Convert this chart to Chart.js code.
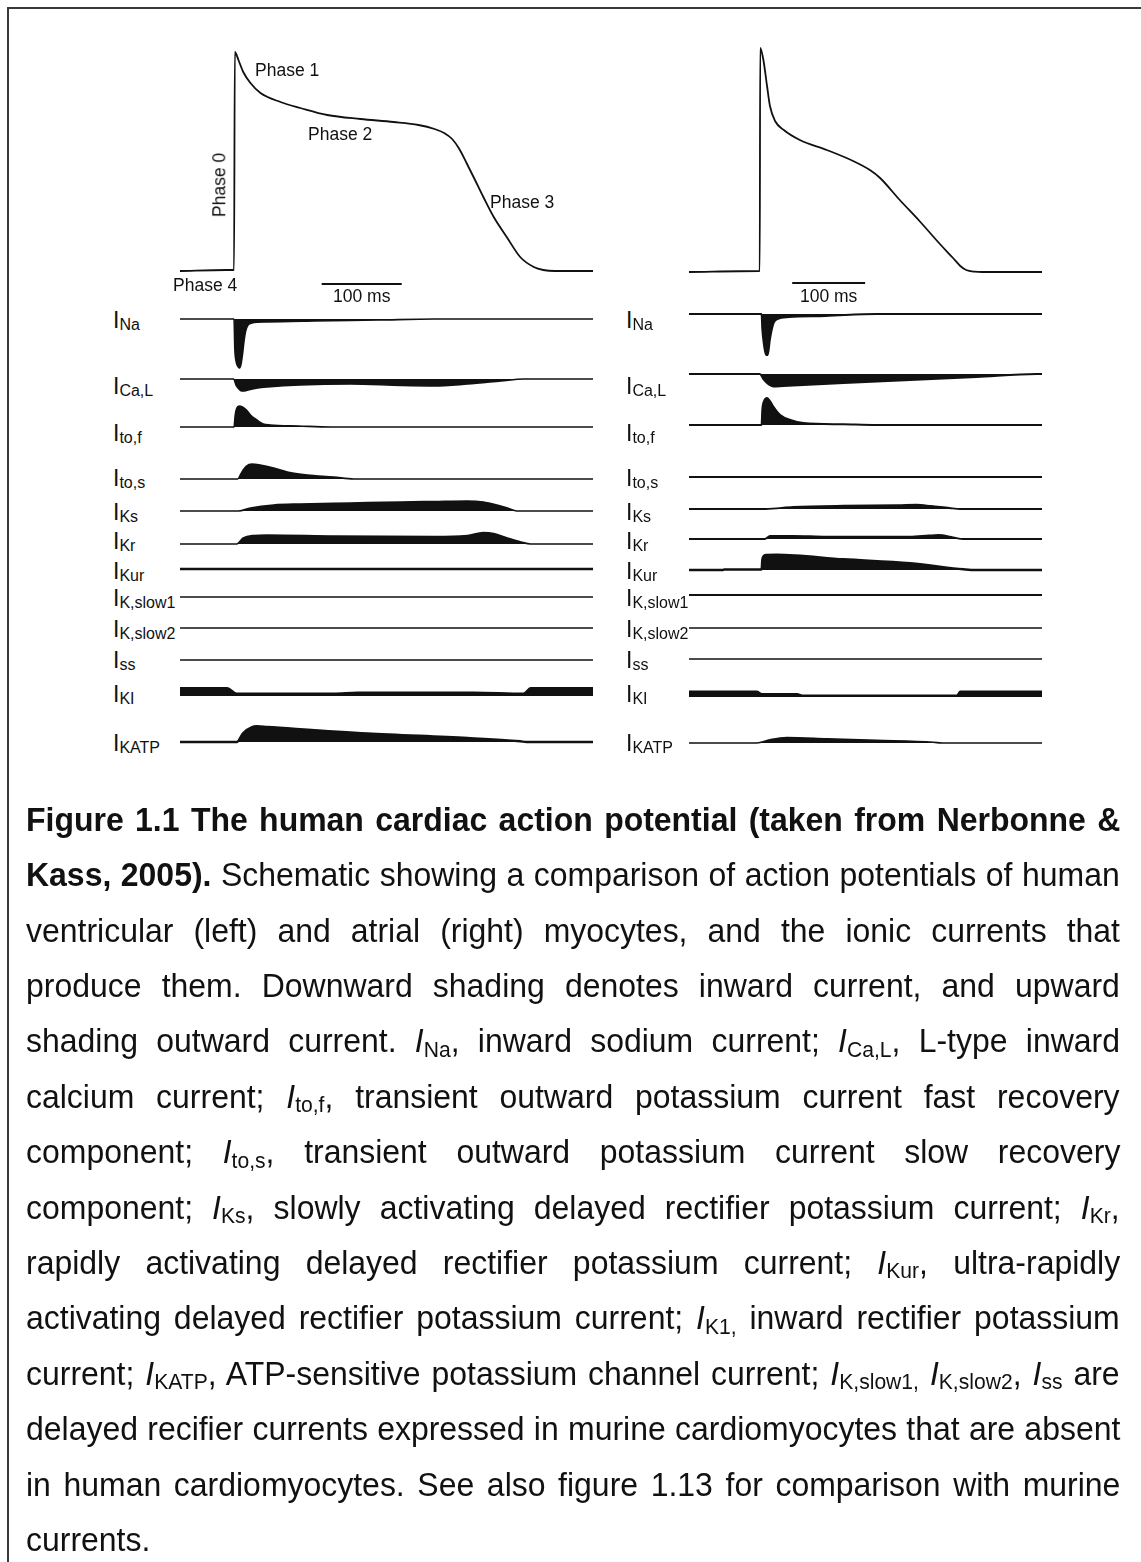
<!DOCTYPE html>
<html>
<head>
<meta charset="utf-8">
<title>Human cardiac action potential and ionic currents</title>
<script src="https://cdn.jsdelivr.net/npm/chart.js@4.4.1/dist/chart.umd.min.js"></script>
<style>
  html, body { margin: 0; padding: 0; background: #fff; }
  body {
    width: 1141px; height: 1562px; position: relative; overflow: hidden;
    font-family: "Liberation Sans", Arial, Helvetica, sans-serif; color: #111;
  }
  #frame {
    position: absolute; left: 7px; top: 7px; width: 1200px; height: 1600px;
    border-top: 2px solid #3a3a3a; border-left: 2px solid #3a3a3a;
  }
  canvas.plot { position: absolute; display: block; }
  .lbl { position: absolute; white-space: nowrap; line-height: 1; }
  .phase { font-size: 17.5px; }
  .cur { font-size: 23px; }
  .cur sub { font-size: 16px; vertical-align: baseline; position: relative; top: 2px; }
  #caption { position: absolute; left: 26px; top: 0; transform-origin: 0 0; }
  .cl { position: absolute; left: 0; white-space: nowrap; font-size: 34px; line-height: 1; }
  .cl sub { font-size: 0.66em; vertical-align: baseline; position: relative; top: 0.2em; }
</style>
</head>
<body>
<div id="frame"></div>
<div id="caption"></div>
<script>
// ---- Data: time in ms (0 = upstroke), AP in arbitrary mV units above rest,
// ---- currents in arbitrary units (outward positive, inward negative).

const CURRENT_LABELS = ['Na', 'Ca,L', 'to,f', 'to,s', 'Ks', 'Kr', 'Kur', 'K,slow1', 'K,slow2', 'ss', 'KI', 'KATP'];

// Ventricular myocyte (left column)
const ventricularAP = [[-68,0],[-10,1],[-0.5,1],[0.5,219],[5,211],[11,199],[20,188],[32.5,178],[57.5,169],[82.5,163],[116,156],[157.5,152],[199,149],[230,146],[250,142],[262,138],[272,132],[281,122],[290,108],[300,92],[311,74],[324,54],[341,33],[357,14],[374,4],[386,1],[400,0],[448,0]];
const vNa    = [[-68,0],[-0.5,0],[0.5,-30],[2,-42],[4,-47],[6,-49],[8,-46],[10,-36],[12,-22],[14,-12],[17,-6],[22,-4],[40,-3],[100,-2],[180,-1],[250,0],[448,0]];
const vCaL   = [[-68,0],[-1,0],[2,-6],[7,-11],[11,-12],[17,-11],[29,-9],[41,-8],[82,-6],[145,-5],[208,-6.5],[249,-7],[291,-5],[333,-2],[361,0],[448,0]];
const vTof   = [[-68,0],[-0.5,0],[1,12],[3,19],[6,21],[10,20],[15,17],[20,12],[28,7],[36,3],[45,2],[80,1],[120,0],[448,0]];
const vTos   = [[-68,0],[4,0],[8,5],[11,9],[15,13],[22,15],[32,14],[49,11],[66,7],[91,4],[124,2],[149,0],[448,0]];
const vKs    = [[-68,0],[5,0],[20,3],[49,6],[82,7],[145,8],[208,9],[249,9.5],[291,10],[311,9],[328,6],[341,3],[353,0],[448,0]];
const vKr    = [[-68,0],[3,0],[11,6],[24,8.5],[41,9],[124,8],[249,7.5],[291,8.5],[311,11.5],[324,10.5],[341,6],[358,2],[370,0],[448,0]];
const vKur   = [[-68,0],[448,0]];
const vKslow1 = [[-68,0],[448,0]];
const vKslow2 = [[-68,0],[448,0]];
const vSs    = [[-68,0],[448,0]];
const vK1    = [[-68,8],[-9,8],[3,2.5],[124,2.5],[154,3.5],[299,3.5],[361,2.5],[370,8],[448,8]];
const vKATP  = [[-68,0],[3,0],[11,9],[22,15],[28,15.7],[41,15],[166,8.5],[291,4],[357,0.7],[365,0],[448,0]];

// Atrial myocyte (right column)
const atrialAP = [[-97,0],[-1,1],[0,1],[0.6,224],[5,212],[10,186],[14,166],[21,151],[33,142],[55,132],[92,122],[128,111],[151,102],[165,94],[192,72],[219,51],[247,28],[265,14],[275,6],[283,2],[295,0.3],[305,0],[387,0]];
const aNa    = [[-97,0],[2.5,0],[3.5,-15],[6,-32],[9,-41],[11,-41],[14,-25],[19,-9],[24,-5],[40,-3],[90,-2],[160,0],[387,0]];
const aCaL   = [[-97,0],[0,0],[5,-5],[10,-9],[19,-12.5],[32,-12],[115,-9],[206,-6],[297,-3],[380,0],[387,0]];
const aTof   = [[-97,0],[2.5,0],[3.5,15],[6,24],[10,27],[14,24],[19,18],[28,10],[42,5],[60,2],[115,0.7],[160,0],[387,0]];
const aTos   = [[-97,0],[387,0]];
const aKs    = [[-97,0],[8,0],[46,2],[115,3.3],[190,3.8],[215,4.3],[235,3],[260,1],[275,0],[387,0]];
const aKr    = [[-97,0],[7,0],[14,3],[46,3.2],[92,2.3],[206,2.3],[232,3.5],[245,4],[265,1.7],[279,0],[387,0]];
const aKur   = [[-97,0],[-50,0],[-49,0.5],[2.5,0.5],[3.5,10],[5,13.5],[9,15],[23,15.3],[115,10.7],[206,6.7],[279,0.7],[290,0],[387,0]];
const aKslow1 = [[-97,0],[387,0]];
const aKslow2 = [[-97,0],[387,0]];
const aSs    = [[-97,0],[387,0]];
const aK1    = [[-97,5.5],[-4,5.5],[3,3],[51,3],[60,1.5],[270,1.5],[275,5.5],[387,5.5]];
const aKATP  = [[-97,0],[-4,0],[14,3.3],[37,5.5],[92,4.3],[160,2.7],[238,0.7],[250,0],[387,0]];

const SCALE_BAR_MS = 100;

const ventricularCurrents = [vNa, vCaL, vTof, vTos, vKs, vKr, vKur, vKslow1, vKslow2, vSs, vK1, vKATP];
const atrialCurrents = [aNa, aCaL, aTof, aTos, aKs, aKr, aKur, aKslow1, aKslow2, aSs, aK1, aKATP];

// ---- Layout (page pixels) ----
const INK = '#111111';
const COLUMNS = [
  {
    ap: ventricularAP, currents: ventricularCurrents,
    x0: 180, x1: 593, tMin: -68, tMax: 448, apZero: 271, labelX: 113,
    barStart: 109, barLevel: -13,
    zeros:  [319, 379, 427, 479, 511, 544, 569, 597, 628, 660, 696, 742],
    widths: [1.6, 1.6, 1.6, 1.6, 1.6, 1.6, 2.6, 1.3, 1.3, 1.3, 1.8, 2.4]
  },
  {
    ap: atrialAP, currents: atrialCurrents,
    x0: 689, x1: 1042, tMin: -97, tMax: 387, apZero: 272, labelX: 626,
    barStart: 44.5, barLevel: -11,
    zeros:  [314, 374, 425, 477, 509, 539, 570, 595, 628, 659, 697, 743],
    widths: [2.0, 2.0, 2.0, 2.0, 1.8, 1.8, 2.4, 2.0, 1.6, 1.6, 1.8, 1.6]
  }
];
const LABEL_BASELINES = [328, 394, 441, 486, 520, 549, 579, 606, 637, 668, 702, 751];

function baseOptions(col, lo, hi) {
  return {
    responsive: false, animation: false, events: [], devicePixelRatio: 1,
    layout: { padding: 0, autoPadding: false },
    plugins: { legend: { display: false }, tooltip: { enabled: false } },
    scales: {
      x: { type: 'linear', min: col.tMin, max: col.tMax, display: false },
      y: { type: 'linear', min: lo, max: hi, display: false }
    }
  };
}

function makeCanvas(col, zeroY, lo, hi) {
  const cv = document.createElement('canvas');
  cv.className = 'plot';
  cv.width = col.x1 - col.x0;
  cv.height = hi - lo;
  cv.style.left = col.x0 + 'px';
  cv.style.top = (zeroY - hi) + 'px';
  cv.style.width = cv.width + 'px';
  cv.style.height = cv.height + 'px';
  document.body.appendChild(cv);
  return cv;
}

function lineSet(points, width, fill) {
  return {
    data: points.map(([t, v]) => ({ x: t, y: v })),
    borderColor: INK, backgroundColor: INK, borderWidth: width,
    fill: fill ? 'origin' : false,
    pointRadius: 0, pointHoverRadius: 0, pointHitRadius: 0,
    cubicInterpolationMode: 'monotone',
    borderJoinStyle: 'round', borderCapStyle: 'butt'
  };
}

// Action potential panel with its 100 ms scale bar
function apChart(col) {
  const ys = col.ap.map(p => p[1]);
  const hi = Math.ceil(Math.max(...ys) + 5);
  const lo = col.barLevel - 4;
  const cv = makeCanvas(col, col.apZero, lo, hi);
  const bar = [[col.barStart, col.barLevel], [col.barStart + SCALE_BAR_MS, col.barLevel]];
  const barSet = lineSet(bar, 1.8, false);
  barSet.cubicInterpolationMode = 'default';
  barSet.tension = 0;
  new Chart(cv, {
    type: 'line',
    data: { datasets: [lineSet(col.ap, 1.8, false), barSet] },
    options: baseOptions(col, lo, hi)
  });
}

// One shaded current trace
function currentChart(col, i) {
  const pts = col.currents[i];
  const ys = pts.map(p => p[1]);
  const hi = Math.ceil(Math.max(0, ...ys) + 4);
  const lo = Math.floor(Math.min(0, ...ys) - 4);
  const cv = makeCanvas(col, col.zeros[i], lo, hi);
  new Chart(cv, {
    type: 'line',
    data: { datasets: [lineSet(pts, col.widths[i], true)] },
    options: baseOptions(col, lo, hi)
  });
}

// Text placed by its baseline (line-height 1 box, Liberation Sans metrics)
function textAt(html, cls, fontSize, x, baseline, center) {
  const d = document.createElement('div');
  d.className = 'lbl ' + cls;
  d.innerHTML = html;
  d.style.left = x + 'px';
  d.style.top = (baseline - 0.8465 * fontSize) + 'px';
  if (center) d.style.transform = 'translateX(-50%)';
  document.body.appendChild(d);
  return d;
}

COLUMNS.forEach(col => {
  apChart(col);
  col.currents.forEach((_, i) => currentChart(col, i));
  CURRENT_LABELS.forEach((name, i) => {
    textAt('I<sub>' + name + '</sub>', 'cur', 23, col.labelX, LABEL_BASELINES[i], false);
  });
  const barMid = col.x0 + (col.barStart + SCALE_BAR_MS / 2 - col.tMin) * (col.x1 - col.x0) / (col.tMax - col.tMin);
  textAt('100 ms', 'phase', 17.5, barMid, 302.5, true);
});

// Phase annotations on the ventricular action potential
textAt('Phase 1', 'phase', 17.5, 255, 77, false);
textAt('Phase 2', 'phase', 17.5, 308, 141, false);
textAt('Phase 3', 'phase', 17.5, 490, 209, false);
textAt('Phase 4', 'phase', 17.5, 173, 291.5, false);
const p0 = document.createElement('div');
p0.className = 'lbl phase';
p0.textContent = 'Phase 0';
p0.style.left = '220px';
p0.style.top = '185px';
p0.style.transform = 'translate(-50%, -50%) rotate(-90deg)';
document.body.appendChild(p0);

// ---- Caption ----
const CAPTION_LINES = [
  '<b>Figure 1.1 The human cardiac action potential (taken from Nerbonne &amp;</b>',
  '<b>Kass, 2005).</b> Schematic showing a comparison of action potentials of human',
  'ventricular (left) and atrial (right) myocytes, and the ionic currents that',
  'produce them. Downward shading denotes inward current, and upward',
  'shading outward current. <i>I</i><sub>Na</sub>, inward sodium current; <i>I</i><sub>Ca,L</sub>, L-type inward',
  'calcium current; <i>I</i><sub>to,f</sub>, transient outward potassium current fast recovery',
  'component; <i>I</i><sub>to,s</sub>, transient outward potassium current slow recovery',
  'component; <i>I</i><sub>Ks</sub>, slowly activating delayed rectifier potassium current; <i>I</i><sub>Kr</sub>,',
  'rapidly activating delayed rectifier potassium current; <i>I</i><sub>Kur</sub>, ultra-rapidly',
  'activating delayed rectifier potassium current; <i>I</i><sub>K1,</sub> inward rectifier potassium',
  'current; <i>I</i><sub>KATP</sub>, ATP-sensitive potassium channel current; <i>I</i><sub>K,slow1,</sub> <i>I</i><sub>K,slow2</sub>, <i>I</i><sub>ss</sub> are',
  'delayed recifier currents expressed in murine cardiomyocytes that are absent',
  'in human cardiomyocytes. See also figure 1.13 for comparison with murine',
  'currents.'
];
const CAP_SCALE = 0.94, CAP_FONT = 34, CAP_WIDTH = 1094, CAP_BASE = 830.5, CAP_STEP = 55.4;
const cap = document.getElementById('caption');
cap.style.transform = 'scaleX(' + CAP_SCALE + ')';
CAPTION_LINES.forEach((html, i) => {
  const d = document.createElement('div');
  d.className = 'cl';
  d.innerHTML = html;
  d.style.top = (CAP_BASE + i * CAP_STEP - 0.8465 * CAP_FONT) + 'px';
  cap.appendChild(d);
  if (i < CAPTION_LINES.length - 1) {
    const natural = d.offsetWidth;
    const gaps = (d.textContent.match(/ /g) || []).length;
    if (gaps) d.style.wordSpacing = ((CAP_WIDTH / CAP_SCALE - natural) / gaps) + 'px';
  }
});
</script>
</body>
</html>
